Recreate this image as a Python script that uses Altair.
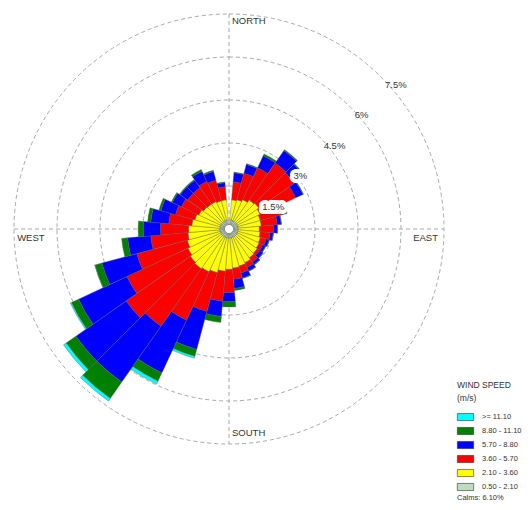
import math
import altair as alt
import pandas as pd

# ---------------- data ----------------
DIRECTIONS = list(range(0, 360, 10))

# speed classes from the centre outwards
CATEGORIES = ["0.50 - 2.10", "2.10 - 3.60", "3.60 - 5.70", "5.70 - 8.80", "8.80 - 11.10", ">= 11.10"]
COLORS = ["#c0dcc0", "#ffff00", "#ff0000", "#0000ff", "#008000", "#00ffff"]

# frequency (%) per direction (0, 10, ..., 350) for each speed class
S1 = [0.00] + [0.16] * 35
S2 = [0.00, 0.70, 0.74, 0.81, 0.91, 0.95, 0.88, 0.81, 0.81, 0.74, 0.77, 0.81,
      0.84, 0.88, 0.91, 0.98, 1.02, 1.05, 1.09, 1.16, 1.26, 1.33, 1.37, 1.33,
      1.26, 1.19, 1.12, 1.09, 0.98, 0.91, 0.84, 0.77, 0.74, 0.74, 0.70, 0.70]
S3 = [0.00, 0.63, 0.95, 1.23, 1.58, 1.51, 1.37, 0.77, 0.56, 0.49, 0.35, 0.21,
      0.14, 0.11, 0.18, 0.18, 0.25, 0.39, 0.81, 1.05, 1.40, 1.86, 2.45, 2.73,
      2.35, 1.82, 1.30, 0.98, 0.81, 0.70, 0.67, 0.67, 0.70, 0.77, 0.74, 0.46]
S4 = [0.00, 0.32, 0.32, 0.46, 0.53, 0.42, 0.28, 0.18, 0.14, 0.14, 0.11, 0.11,
      0.11, 0.14, 0.11, 0.14, 0.18, 0.32, 0.32, 0.53, 1.37, 2.03, 2.38, 2.14,
      1.86, 1.26, 0.81, 0.60, 0.63, 0.53, 0.35, 0.32, 0.32, 0.39, 0.32, 0.14]
S5 = [0.00, 0.02, 0.03, 0.07, 0.04, 0.03, 0.02, 0.02, 0.01, 0.01, 0.01, 0.01,
      0.01, 0.01, 0.01, 0.01, 0.02, 0.07, 0.18, 0.21, 0.25, 0.32, 0.70, 0.42,
      0.28, 0.25, 0.21, 0.18, 0.11, 0.07, 0.04, 0.03, 0.03, 0.07, 0.04, 0.03]
S6 = [0.00, 0.00, 0.00, 0.00, 0.00, 0.00, 0.00, 0.00, 0.00, 0.00, 0.00, 0.00,
      0.00, 0.00, 0.00, 0.00, 0.00, 0.00, 0.00, 0.00, 0.07, 0.11, 0.11, 0.11,
      0.04, 0.01, 0.00, 0.00, 0.00, 0.00, 0.00, 0.00, 0.00, 0.00, 0.00, 0.00]
SERIES = [S1, S2, S3, S4, S5, S6]

RING_VALUES = [1.5, 3.0, 4.5, 6.0, 7.5]
RING_LABELS = ["1.5%", "3%", "4.5%", "6%", "7.5%"]
RING_LABEL_R = [1.72, 3.10, 4.69, 6.11, 7.68]
RING_LABEL_DIR = [63.4, 53.3, 51.7, 49.2, 49.3]
RING_LABEL_BOXED = [True, True, False, False, False]

LEGEND_TITLE = ["WIND SPEED", "(m/s)"]
CALMS_TEXT = "Calms: 6.10%"

# ---------------- layout constants ----------------
W, H = 515, 494
CX, CY = 221, 221
R_MAX_PX = 215
CALM_R = 0.16          # radius (in %) of the calm hole
FONT = "Liberation Sans"
GRID = "#a8a8a8"
TXT = "#333333"

RSCALE = alt.Scale(type="linear", domain=[0, 7.5], range=[0, R_MAX_PX], zero=True, nice=False)
TSCALE = alt.Scale(type="linear", domain=[0, 360], range=[0, 2 * math.pi], zero=True, nice=False)

rows = []
for i, d in enumerate(DIRECTIONS):
    r = CALM_R
    for cat, ser in zip(CATEGORIES, SERIES):
        v = ser[i]
        if v <= 0:
            continue
        rows.append({"dir": d, "t0": d - 5, "t1": d + 5, "r0": r, "r1": r + v, "speed": cat})
        r += v
rose_df = pd.DataFrame(rows)

legend_order = CATEGORIES[::-1]
legend_colors = COLORS[::-1]

base_pos = {"x": alt.value(CX), "y": alt.value(CY)}


def polar(theta_field, r_field):
    return {
        "theta": alt.Theta(theta_field, scale=TSCALE, stack=None),
        "radius": alt.Radius(r_field, scale=RSCALE, stack=None),
    }


rings = alt.Chart(pd.DataFrame({"r": RING_VALUES})).mark_arc(
    filled=False, stroke=GRID, strokeWidth=1, strokeDash=[4, 3]
).encode(
    theta=alt.value(0), theta2=alt.value(2 * math.pi),
    radius=alt.Radius("r:Q", scale=RSCALE, stack=None),
    **base_pos,
)

dummy = pd.DataFrame({"a": [0]})
vline = alt.Chart(dummy).mark_rule(color=GRID, strokeWidth=1, strokeDash=[4, 3]).encode(
    x=alt.value(CX), y=alt.value(CY - R_MAX_PX), y2=alt.value(CY + R_MAX_PX)
)
hline = alt.Chart(dummy).mark_rule(color=GRID, strokeWidth=1, strokeDash=[4, 3]).encode(
    x=alt.value(CX - R_MAX_PX), x2=alt.value(CX + R_MAX_PX), y=alt.value(CY)
)

rose = alt.Chart(rose_df).mark_arc(stroke="#5a5a5a", strokeWidth=0.4).encode(
    theta2="t1:Q",
    radius2="r0:Q",
    color=alt.Color(
        "speed:N",
        scale=alt.Scale(domain=legend_order, range=legend_colors),
        legend=alt.Legend(
            title=LEGEND_TITLE, orient="none", legendX=449, legendY=373,
            symbolType="M-1.03,-0.45H1.03V0.45H-1.03Z", symbolSize=250,
            symbolStrokeColor=TXT, symbolStrokeWidth=0.6,
            labelFont=FONT, labelFontSize=7.5, labelColor=TXT, labelOffset=8,
            titleFont=FONT, titleFontSize=8.5, titleFontWeight="normal",
            titleColor=TXT, titleLineHeight=13, titlePadding=6, rowPadding=0,
        ),
    ),
    **polar("t0:Q", "r1:Q"),
    **base_pos,
)

calm = alt.Chart(pd.DataFrame({"r": [CALM_R]})).mark_arc(fill="white", stroke="#8a8a8a", strokeWidth=1).encode(
    theta=alt.value(0), theta2=alt.value(2 * math.pi),
    radius=alt.Radius("r:Q", scale=RSCALE, stack=None),
    **base_pos,
)

lbl_df = pd.DataFrame({"t": RING_LABELS, "d": RING_LABEL_DIR, "r": RING_LABEL_R, "boxed": RING_LABEL_BOXED})

# white halo acting as the label box
ring_halo = alt.Chart(lbl_df[lbl_df["boxed"]]).mark_text(
    font=FONT, fontSize=9.5, color="white", stroke="white", strokeWidth=8,
    strokeJoin="round", align="center", baseline="middle"
).encode(text="t:N", **polar("d:Q", "r:Q"), **base_pos)

ring_lbl = alt.Chart(lbl_df).mark_text(
    font=FONT, fontSize=9.5, color=TXT, align="center", baseline="middle"
).encode(text="t:N", **polar("d:Q", "r:Q"), **base_pos)

north_south = alt.Chart(pd.DataFrame({"t": ["NORTH", "SOUTH"], "d": [0, 180], "r": [7.27, 7.11]})).mark_text(
    font=FONT, fontSize=9.5, color=TXT, align="left", baseline="middle", dx=3
).encode(text="t:N", **polar("d:Q", "r:Q"), **base_pos)

west = alt.Chart(pd.DataFrame({"t": ["WEST"], "d": [270], "r": [7.39]})).mark_text(
    font=FONT, fontSize=9.5, color=TXT, align="left", baseline="middle", dy=9
).encode(text="t:N", **polar("d:Q", "r:Q"), **base_pos)

east = alt.Chart(pd.DataFrame({"t": ["EAST"], "d": [90], "r": [7.29]})).mark_text(
    font=FONT, fontSize=9.5, color=TXT, align="right", baseline="middle", dy=9
).encode(text="t:N", **polar("d:Q", "r:Q"), **base_pos)

calms_txt = alt.Chart(pd.DataFrame({"t": [CALMS_TEXT]})).mark_text(
    font=FONT, fontSize=7.5, color=TXT, align="left", baseline="middle"
).encode(text="t:N", x=alt.value(449), y=alt.value(490))

chart = alt.layer(
    rings, vline, hline, rose, calm, ring_halo, ring_lbl, north_south, west, east, calms_txt
).properties(
    width=W, height=H, autosize="none", padding=0
).configure_view(stroke=None)

chart.save("out.html", embed_options={"renderer": "svg", "actions": False})
